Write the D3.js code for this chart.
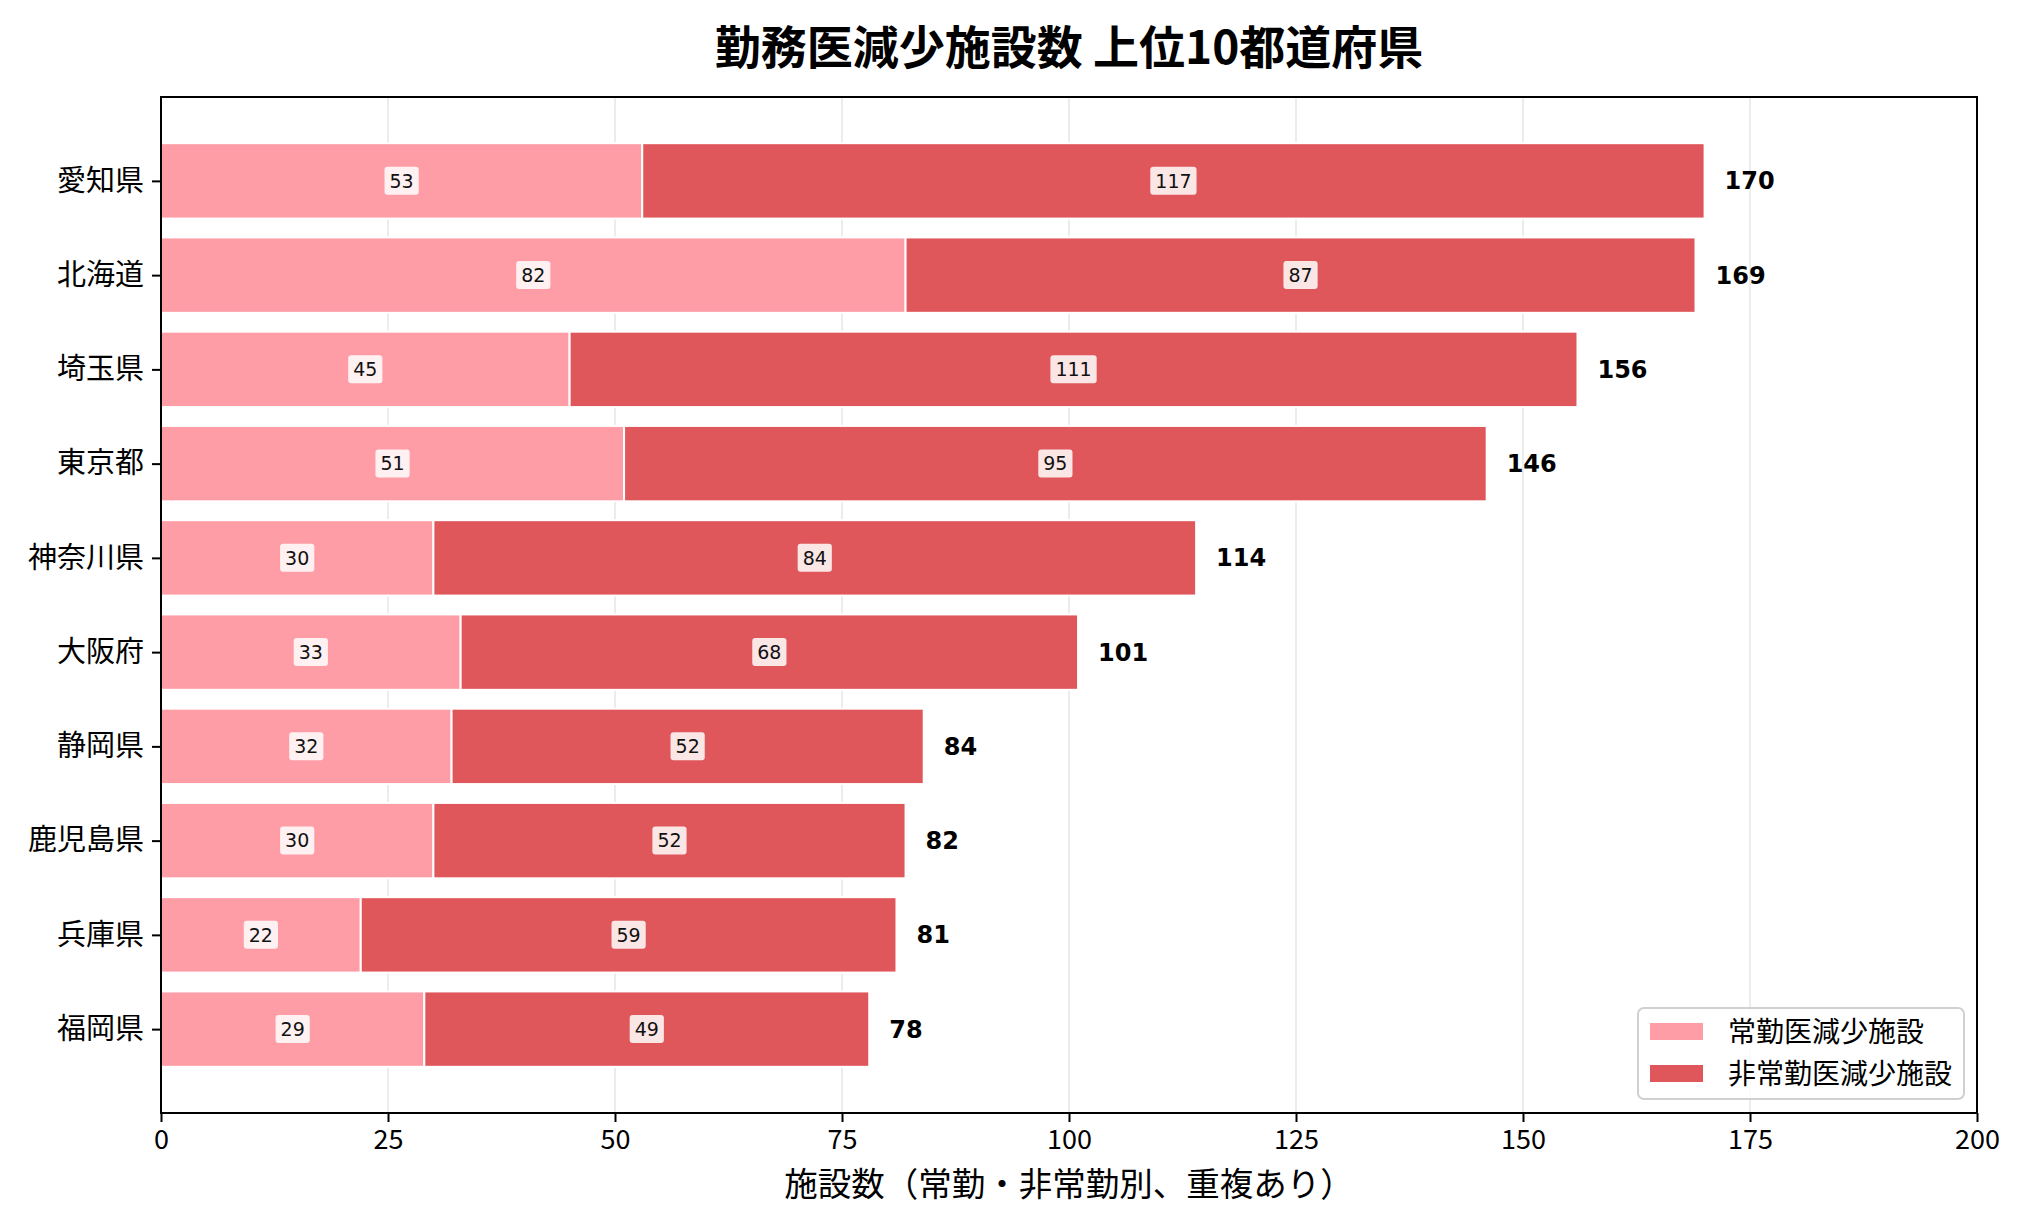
<!DOCTYPE html>
<html>
<head>
<meta charset="utf-8">
<script src="https://cdn.jsdelivr.net/npm/d3@7"></script>
<style>
  body { margin: 0; background: #fff; }
  text { font-family: "Noto Sans CJK JP", "DejaVu Sans", sans-serif; }
</style>
</head>
<body>
<div id="chart"></div>
<script>
// data
const prefectures = ["愛知県", "北海道", "埼玉県", "東京都", "神奈川県", "大阪府", "静岡県", "鹿児島県", "兵庫県", "福岡県"];
const fullTime = [53, 82, 45, 51, 30, 33, 32, 30, 22, 29];
const partTime = [117, 87, 111, 95, 84, 68, 52, 52, 59, 49];
const xTicks = [0, 25, 50, 75, 100, 125, 150, 175, 200];
const seriesNames = ["常勤医減少施設", "非常勤医減少施設"];
const colors = ["#ff9da6", "#e0575b"];

const width = 2018, height = 1211;
const margin = { top: 97, right: 41, bottom: 98, left: 161 };
const innerW = width - margin.left - margin.right;
const innerH = height - margin.top - margin.bottom;

const svg = d3.select("#chart").append("svg")
    .attr("width", width)
    .attr("height", height);

const g = svg.append("g")
    .attr("transform", `translate(${margin.left},${margin.top})`);

const x = d3.scaleLinear().domain([0, 200]).range([0, innerW]);

// matplotlib-like y limits: bars of height 0.8 plus 5% margins
const n = prefectures.length;
const yLin = d3.scaleLinear().domain([-0.89, n - 1 + 0.89]).range([0, innerH]);
const barH = yLin(0.8) - yLin(0);

// gridlines
g.append("g").selectAll("line")
    .data(xTicks)
    .enter().append("line")
    .attr("x1", d => x(d)).attr("x2", d => x(d))
    .attr("y1", 0).attr("y2", innerH)
    .attr("stroke", "#e6e6e6")
    .attr("stroke-width", 1.5);

const rows = prefectures.map((p, i) => ({
    name: p, i: i, a: fullTime[i], b: partTime[i], total: fullTime[i] + partTime[i]
}));

// stacked bars
const barG = g.append("g");
rows.forEach(d => {
    const yTop = yLin(d.i) - barH / 2;
    barG.append("rect")
        .attr("x", x(0)).attr("y", yTop)
        .attr("width", x(d.a) - x(0)).attr("height", barH)
        .attr("fill", colors[0])
        .attr("stroke", "#fff").attr("stroke-width", 2);
    barG.append("rect")
        .attr("x", x(d.a)).attr("y", yTop)
        .attr("width", x(d.total) - x(d.a)).attr("height", barH)
        .attr("fill", colors[1])
        .attr("stroke", "#fff").attr("stroke-width", 2);
});

// value labels inside segments with rounded boxes
function boxedLabel(cx, cy, value) {
    const lg = g.append("g").attr("transform", `translate(${cx},${cy})`);
    const t = lg.append("text")
        .attr("text-anchor", "middle")
        .attr("dy", "0.36em")
        .style("font-family", "'DejaVu Sans', sans-serif")
        .style("font-size", "19px")
        .attr("fill", "#111")
        .text(value);
    const bb = t.node().getBBox();
    lg.insert("rect", "text")
        .attr("x", bb.x - 5).attr("y", bb.y - 3)
        .attr("width", bb.width + 10).attr("height", bb.height + 6)
        .attr("rx", 3)
        .attr("fill", "#fff").attr("fill-opacity", 0.85);
}
rows.forEach(d => {
    boxedLabel(x(d.a / 2), yLin(d.i), d.a);
    boxedLabel(x(d.a + d.b / 2), yLin(d.i), d.b);
    g.append("text")
        .attr("x", x(d.total) + 20)
        .attr("y", yLin(d.i))
        .attr("dy", "0.35em")
        .style("font-family", "'DejaVu Sans', sans-serif")
        .style("font-size", "24px")
        .style("font-weight", "bold")
        .attr("fill", "#000")
        .text(d.total);
});

// frame
g.append("rect")
    .attr("x", 0).attr("y", 0)
    .attr("width", innerW).attr("height", innerH)
    .attr("fill", "none")
    .attr("stroke", "#000").attr("stroke-width", 2);

// x axis
const xAxis = g.append("g")
    .attr("transform", `translate(0,${innerH})`)
    .call(d3.axisBottom(x).tickValues(xTicks).tickSize(9).tickPadding(8).tickFormat(d3.format("d")));
xAxis.select(".domain").remove();
xAxis.selectAll("line").attr("stroke", "#000").attr("stroke-width", 2);
xAxis.selectAll("text").style("font-size", "27px").attr("fill", "#000");

// y axis
const yAxis = g.append("g")
    .call(d3.axisLeft(yLin).tickValues(d3.range(n)).tickSize(9).tickPadding(8).tickFormat(i => prefectures[i]));
yAxis.select(".domain").remove();
yAxis.selectAll("line").attr("stroke", "#000").attr("stroke-width", 2);
yAxis.selectAll("text").style("font-size", "29px").attr("fill", "#000");

// axis title
svg.append("text")
    .attr("x", margin.left + innerW / 2)
    .attr("y", 1184)
    .attr("text-anchor", "middle")
    .attr("dy", "0.35em")
    .style("font-size", "33.5px")
    .attr("fill", "#000")
    .text("施設数（常勤・非常勤別、重複あり）");

// chart title
svg.append("text")
    .attr("x", margin.left + innerW / 2)
    .attr("y", 48)
    .attr("text-anchor", "middle")
    .attr("dy", "0.35em")
    .style("font-size", "46px")
    .style("font-weight", "bold")
    .attr("fill", "#000")
    .text("勤務医減少施設数 上位10都道府県");

// legend
const legend = svg.append("g").attr("transform", "translate(1638,1008)");
legend.append("rect")
    .attr("width", 326).attr("height", 91)
    .attr("rx", 6)
    .attr("fill", "#fff").attr("fill-opacity", 0.85)
    .attr("stroke", "#d0d0d0").attr("stroke-width", 2);
seriesNames.forEach((s, i) => {
    legend.append("rect")
        .attr("x", 12).attr("y", 15 + i * 42)
        .attr("width", 53).attr("height", 17)
        .attr("fill", colors[i]);
    legend.append("text")
        .attr("x", 90).attr("y", 24 + i * 42)
        .attr("dy", "0.35em")
        .style("font-size", "28px")
        .attr("fill", "#000")
        .text(s);
});
</script>
</body>
</html>
